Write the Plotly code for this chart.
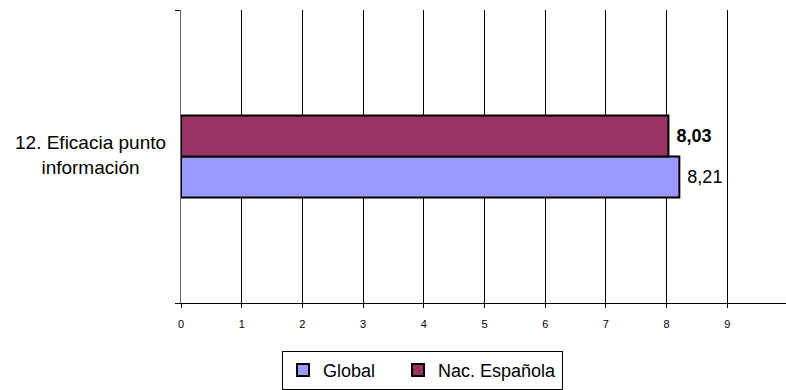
import plotly.graph_objects as go

categories = ["12. Eficacia punto<br>información"]
series_names = ["Global", "Nac. Española"]
global_values = [8.21]
nac_values = [8.03]
x_ticks = [0, 1, 2, 3, 4, 5, 6, 7, 8, 9, 10]

FONT = "Arial, Liberation Sans, sans-serif"

fig = go.Figure()
fig.add_trace(go.Bar(
    name=series_names[0], y=categories, x=global_values, orientation="h",
    marker=dict(color="#9999FF", line=dict(color="black", width=2)),
    texttemplate="\u00a0%{x:.2f}", textposition="outside", cliponaxis=False,
    textfont=dict(family=FONT, size=18, color="black"),
    legendwidth=70,
))
fig.add_trace(go.Bar(
    name=series_names[1], y=categories, x=nac_values, orientation="h",
    marker=dict(color="#993366", line=dict(color="black", width=2)),
    texttemplate="\u00a0<b>%{x:.2f}</b>", textposition="outside", cliponaxis=False,
    textfont=dict(family=FONT, size=18, color="black"),
))

# category label, centred multi-line like the original
for cat in categories:
    fig.add_annotation(
        x=-0.0214, xref="paper", y=cat, yref="y", xanchor="right", yanchor="middle",
        text=cat, showarrow=False, align="center", yshift=2,
        font=dict(size=19, family=FONT, color="black"),
    )

fig.update_layout(
    width=788, height=390,
    margin=dict(l=181, r=0, t=10, b=84),
    paper_bgcolor="white", plot_bgcolor="white",
    barmode="group", bargap=0.72, bargroupgap=0,
    separators=",.",
    font=dict(family=FONT, color="black"),
    hovermode=False,
    xaxis=dict(
        range=[0, 10], tickvals=x_ticks, ticktext=[str(v) for v in x_ticks],
        showgrid=True, gridcolor="black", gridwidth=1,
        showline=True, linecolor="black", linewidth=1,
        ticks="outside", ticklen=4, tickcolor="black", ticklabelstandoff=7,
        tickfont=dict(size=11, family=FONT), zeroline=False, automargin=False,
        fixedrange=True,
    ),
    yaxis=dict(
        showgrid=False, showline=True, linecolor="#666666", linewidth=1,
        ticks="outside", tickson="boundaries", ticklen=5, tickcolor="black",
        showticklabels=False, automargin=False, fixedrange=True,
    ),
    legend=dict(
        orientation="h", x=0.1664, y=-0.163, xanchor="left", yanchor="top",
        bordercolor="black", borderwidth=1, bgcolor="white",
        font=dict(size=18, family=FONT), traceorder="normal",
        itemwidth=30,
    ),
    showlegend=True,
)

fig.write_html(
    "out.html",
    config={"displayModeBar": False},
    post_script=(
        "document.body.style.margin='0';"
        "document.documentElement.style.overflow='hidden';"
        "document.body.style.overflow='hidden';"
    ),
)
